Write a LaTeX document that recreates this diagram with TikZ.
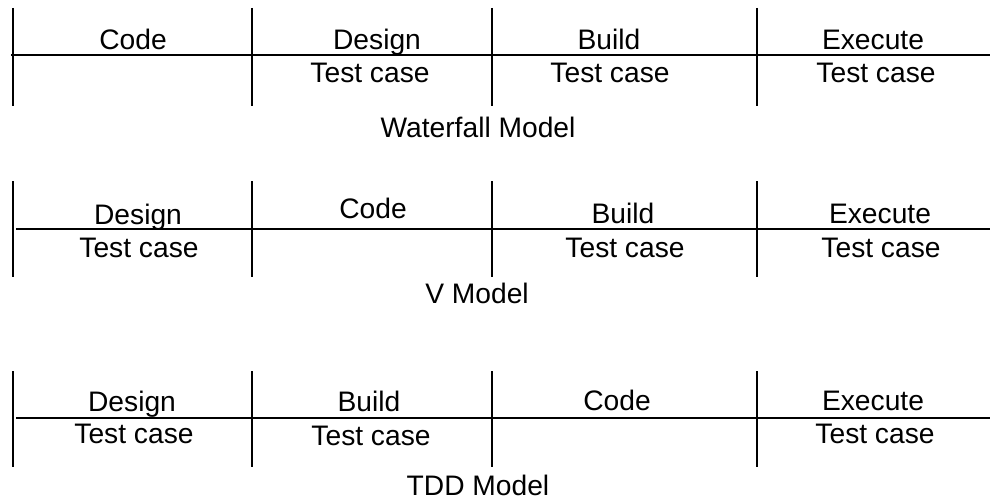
\documentclass[tikz,border=0pt]{standalone}
\usepackage{fontspec}
\setmainfont{Liberation Sans}
\usetikzlibrary{positioning}
\begin{document}
\begin{tikzpicture}[
    x=1pt, y=-1pt,
    lbl/.style={anchor=base, inner sep=0pt, font=\fontsize{28.2}{33}\selectfont},
    rule/.style={line width=1.9pt},
  ]
    \useasboundingbox (0,0) rectangle (990,500);

    % Waterfall model
    \draw[rule] (11,55) -- (990,55);
    \foreach \x in {13,252,492,757} \draw[rule] (\x,8) -- (\x,106);
    \node[lbl] (wcode) at (133,50) {Code};
    \node[lbl] (wdesign) at (377,50) {Design};
    \node[lbl] (wdtest) at (370,83) {Test case};
    \node[lbl] (wbuild) at (609,50) {Build};
    \node[lbl] (wbtest) at (610,83) {Test case};
    \node[lbl] (wexec) at (873,50) {Execute};
    \node[lbl] (wetest) at (876,83) {Test case};
    \node[lbl] (wname) at (478,138) {Waterfall Model};

    % V model
    \draw[rule] (16,229) -- (990,229);
    \foreach \x in {13,252,492,757} \draw[rule] (\x,181) -- (\x,277);
    \node[lbl] (vdesign) at (138,224) {Design};
    \node[lbl] (vdtest) at (139,257) {Test case};
    \node[lbl] (vcode) at (373,218) {Code};
    \node[lbl] (vbuild) at (623,223) {Build};
    \node[lbl] (vbtest) at (625,257) {Test case};
    \node[lbl] (vexec) at (880,223) {Execute};
    \node[lbl] (vetest) at (881,257) {Test case};
    \node[lbl] (vname) at (477,303) {V Model};

    % TDD model
    \draw[rule] (16,418) -- (990,418);
    \foreach \x in {13,252,492,757} \draw[rule] (\x,371) -- (\x,467);
    \node[lbl] (tdesign) at (132,411) {Design};
    \node[lbl] (tdtest) at (134,443) {Test case};
    \node[lbl] (tbuild) at (369,411) {Build};
    \node[lbl] (tbtest) at (371,445) {Test case};
    \node[lbl] (tcode) at (617,410) {Code};
    \node[lbl] (texec) at (873,410) {Execute};
    \node[lbl] (tetest) at (875,443) {Test case};
    \node[lbl] (tname) at (478,495) {TDD Model};
  \end{tikzpicture}
\end{document}
